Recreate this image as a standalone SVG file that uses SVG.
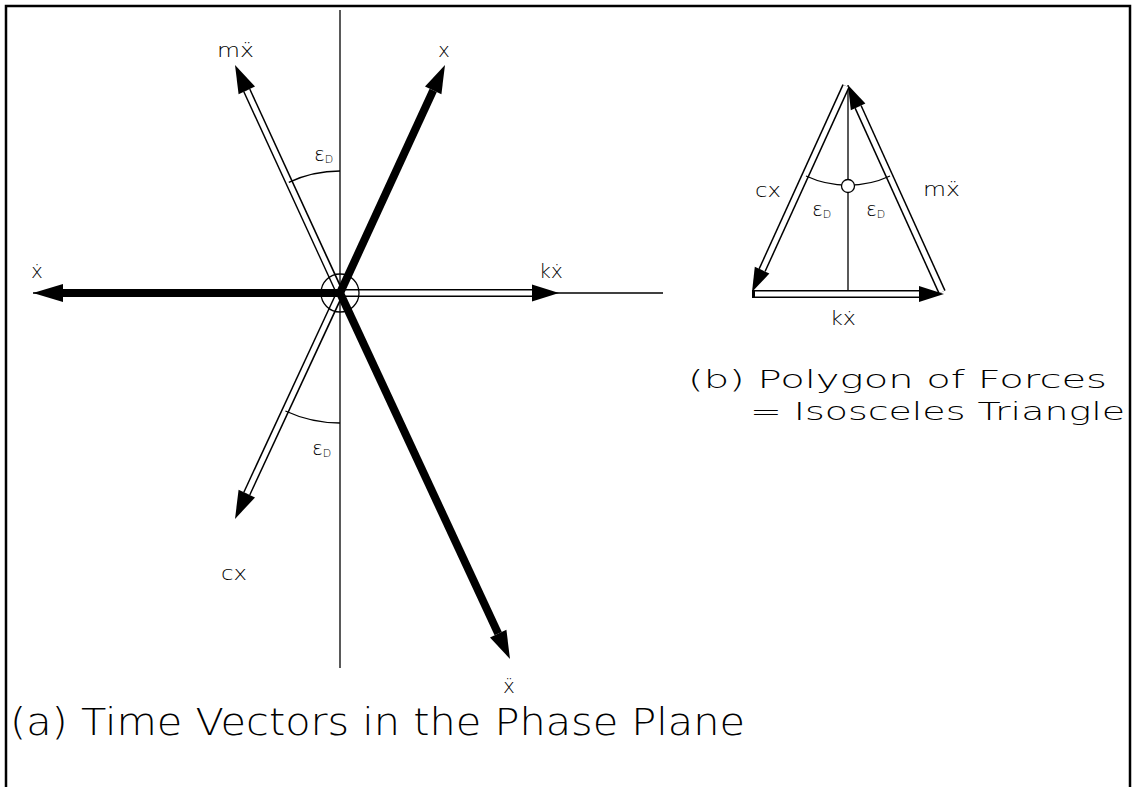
<svg xmlns="http://www.w3.org/2000/svg" width="1132" height="787" viewBox="0 0 1132 787">
<style>
text{font-family:'DejaVu Sans','Liberation Sans',sans-serif;font-weight:200;fill:#000}
.thin{stroke:#000;stroke-width:1.3;fill:none}
.dblo{stroke:#000;stroke-width:8;fill:none}
.dbli{stroke:#fff;stroke-width:5;fill:none}
.thick{stroke:#000;stroke-width:8;fill:none}
.head{fill:#000}
.lbl{font-size:20px}
.eps{font-size:20px}
.sub{font-size:11px}
</style>
<rect width="1132" height="787" fill="#fff"/>
<g id="frame">
<polyline points="6,787 6,6 1130,6 1130,787" fill="none" stroke="#000" stroke-width="2.5"/>
</g>
<g id="axes">
<line class="thin" x1="340" y1="10" x2="340" y2="668"/>
<line class="thin" x1="33" y1="293" x2="663" y2="293"/>
</g>
<g id="connectors">
<line class="dblo" x1="340" y1="293" x2="246.8" y2="90.4"/>
<line class="dbli" x1="338" y1="289" x2="246.8" y2="90.4"/>
<polygon class="head" points="235,65 255,86.6 238.6,94.2"/>
<line class="dblo" x1="340" y1="293" x2="246.8" y2="493.6"/>
<line class="dbli" x1="338" y1="297" x2="246.8" y2="493.6"/>
<polygon class="head" points="235,519 255,497.4 238.6,489.8"/>
<line class="dblo" x1="340" y1="293" x2="534" y2="293"/>
<line class="dbli" x1="344" y1="293" x2="534" y2="293"/>
<polygon class="head" points="559,293 532,284.5 532,301.5"/>
<line class="thick" x1="340" y1="293" x2="433.2" y2="90.4"/>
<polygon class="head" points="445,65 441.4,94.2 425,86.6"/>
<line class="thick" x1="340" y1="293" x2="498.2" y2="633.6"/>
<polygon class="head" points="510,659 506.4,629.8 490,637.4"/>
<line class="thick" x1="340" y1="293" x2="63" y2="293"/>
<polygon class="head" points="33,293 63,284 63,302"/>
<circle class="thin" cx="340" cy="293" r="19"/>
<path class="thin" d="M288.8,182.3 A122,122 0 0 1 340,171"/>
<path class="thin" d="M285.4,411 A130,130 0 0 0 340,423"/>
<line class="thin" x1="848" y1="85" x2="848" y2="294"/>
<line class="dblo" x1="846" y1="86" x2="762.1" y2="270.2"/>
<line class="dbli" x1="846" y1="86" x2="762.1" y2="270.2"/>
<polygon class="head" points="752,292 769.4,273.6 754.8,266.8"/>
<line class="dblo" x1="942" y1="292" x2="858.1" y2="106.8"/>
<line class="dbli" x1="942" y1="292" x2="858.1" y2="106.8"/>
<polygon class="head" points="848,85 865.4,103.4 850.8,110.2"/>
<line class="dblo" x1="752" y1="294" x2="921" y2="294"/>
<line class="dbli" x1="755" y1="294" x2="921" y2="294"/>
<polygon class="head" points="944,294 919,286 919,302"/>
<path class="thin" d="M806,176 A100,100 0 0 0 890,176"/>
<circle cx="848" cy="186" r="6.5" fill="#fff" stroke="#000" stroke-width="1.3"/>
</g>
<g id="labels-a">
<text class="lbl" x="217" y="57" textLength="37" lengthAdjust="spacingAndGlyphs">mẍ</text>
<text class="lbl" x="438" y="57">x</text>
<text class="lbl" x="31" y="278">ẋ</text>
<text class="lbl" x="539" y="278" textLength="24" lengthAdjust="spacingAndGlyphs">kẋ</text>
<text class="lbl" x="221" y="580" textLength="26" lengthAdjust="spacingAndGlyphs">cx</text>
<text class="lbl" x="503" y="693">ẍ</text>
<text class="eps" x="314" y="161">ε<tspan class="sub" dy="2">D</tspan></text>
<text class="eps" x="312" y="455">ε<tspan class="sub" dy="2">D</tspan></text>
<text x="10" y="735" font-size="37" textLength="735" lengthAdjust="spacingAndGlyphs">(a) Time Vectors in the Phase Plane</text>
</g>
<g id="labels-b">
<text class="lbl" x="755" y="197" textLength="26" lengthAdjust="spacingAndGlyphs">cx</text>
<text class="lbl" x="923" y="196" textLength="37" lengthAdjust="spacingAndGlyphs">mẍ</text>
<text class="eps" x="812" y="216">ε<tspan class="sub" dy="2">D</tspan></text>
<text class="eps" x="866" y="216">ε<tspan class="sub" dy="2">D</tspan></text>
<text class="lbl" x="830" y="325" textLength="26" lengthAdjust="spacingAndGlyphs">kẋ</text>
<text x="688" y="388" font-size="25" textLength="419" lengthAdjust="spacingAndGlyphs">(b) Polygon of Forces</text>
<text x="750" y="420" font-size="25" textLength="375" lengthAdjust="spacingAndGlyphs">= Isosceles Triangle</text>
</g>
</svg>
